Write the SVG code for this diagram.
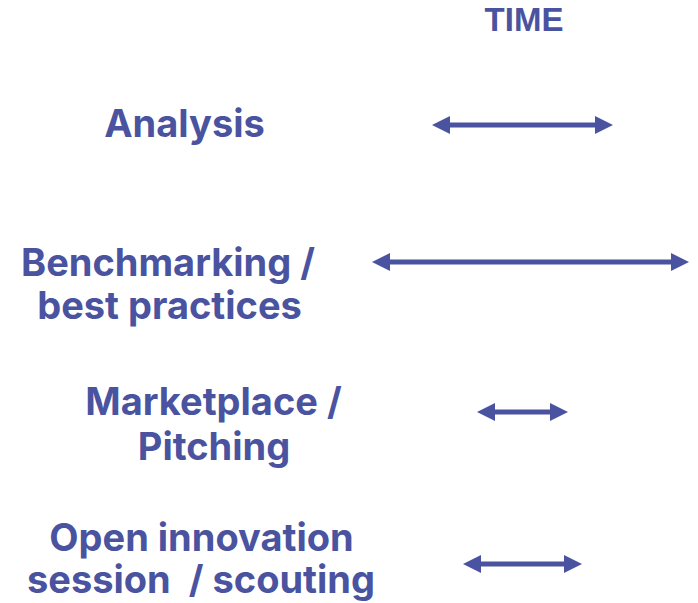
<svg xmlns="http://www.w3.org/2000/svg" width="698" height="603" viewBox="0 0 698 603">
<style>
.lbl{font-family:Inter,"Liberation Sans",sans-serif;font-weight:700;font-size:38px;fill:#4a53a0;text-anchor:middle}
.time{font-family:"Liberation Sans",Arial,sans-serif;font-weight:700;font-size:33px;fill:#4a53a0;text-anchor:middle}
.arr{stroke:#4a53a0;stroke-width:5;fill:none}
.head{fill:#4a53a0}
</style>
<rect width="698" height="603" fill="#fff"/>
<g id="time"><text class="time" x="524" y="31">TIME</text></g>
<g id="analysis"><text class="lbl" x="184.5" y="137">Analysis</text></g>
<g id="benchmarking"><text class="lbl" x="168" y="276">Benchmarking /</text><text class="lbl" x="169.5" y="319">best practices</text></g>
<g id="marketplace"><text class="lbl" x="213.5" y="415">Marketplace /</text><text class="lbl" x="214" y="460">Pitching</text></g>
<g id="open"><text class="lbl" x="201.5" y="551">Open innovation</text><text class="lbl" x="201" y="593" xml:space="preserve">session  / scouting</text></g>
<g id="connectors">
<g><line class="arr" x1="445" y1="125" x2="600" y2="125"/><polygon class="head" points="432,125 450,116 450,134"/><polygon class="head" points="613,125 595,116 595,134"/></g>
<g><line class="arr" x1="385" y1="262" x2="676" y2="262"/><polygon class="head" points="372,262 390,253 390,271"/><polygon class="head" points="689,262 671,253 671,271"/></g>
<g><line class="arr" x1="490" y1="412" x2="555" y2="412"/><polygon class="head" points="477,412 495,403 495,421"/><polygon class="head" points="568,412 550,403 550,421"/></g>
<g><line class="arr" x1="476" y1="564" x2="569" y2="564"/><polygon class="head" points="463,564 481,555 481,573"/><polygon class="head" points="582,564 564,555 564,573"/></g>
</g>
</svg>
